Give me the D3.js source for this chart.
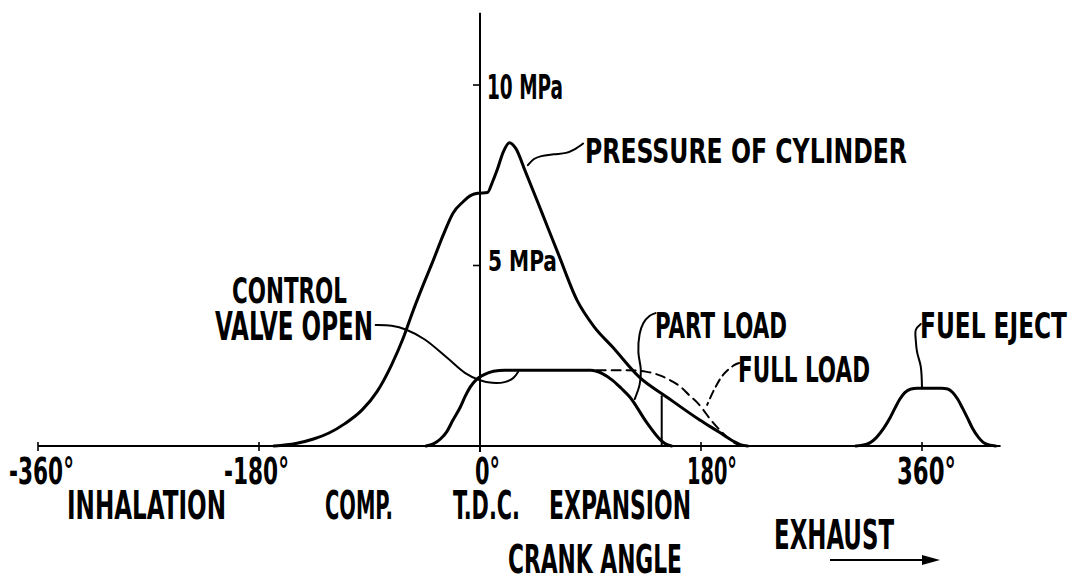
<!DOCTYPE html>
<meta charset="utf-8">
<style>
  body { margin: 0; background: #fff; }
  text { font-family: "Liberation Sans Narrow", "DejaVu Sans Condensed", sans-serif; font-weight: bold; fill: #000; }
</style>
<svg width="1073" height="576"></svg>
<script src="https://d3js.org/d3.v7.min.js"></script>
<script>
// crank angle (deg) / cylinder pressure (MPa)
var degTicks = [-360, -180, 0, 180, 360];
var degLabels = ['-360°', '-180°', '0°', '180°', '360°'];
var mpaTicks = [5, 10];
var mpaLabels = ['5 MPa', '10 MPa'];

var pressure = [[-168,0],[-150,0.07],[-135,0.2],[-123,0.36],[-110,0.62],[-96,1.0],[-84,1.5],[-72,2.25],[-63,2.95],
  [-55,3.7],[-47,4.4],[-38,5.15],[-30,5.84],[-22,6.45],[-14,6.76],[-7,6.95],[-2,7.0],[6,7.02],[10,7.3],
  [14,7.65],[19,8.15],[24,8.4],[29,8.25],[37,7.6],[50,6.5],[64,5.3],[79,4.04],[93,3.3],[108,2.74],[130,1.9],
  [152,1.36],[179,0.72],[195,0.38],[206,0.14],[212,0.04],[218,0]];
var partLoad = [[-44,0],[-38,0.06],[-32,0.2],[-27,0.4],[-22,0.72],[-16,1.08],[-12,1.38],[-8,1.63],[-3,1.84],
  [3,1.97],[11,2.07],[20,2.1],[90,2.1],[95,2.07],[100,2.0],[108,1.82],[115,1.6],[122,1.36],[136,0.64],
  [147,0.17],[151,0.06],[156,0]];
var fullLoad = [[95,2.1],[120,2.1],[135,2.06],[147,1.95],[156,1.8],[163,1.65],[170,1.42],[177,1.2],[190,0.64],
  [204,0.17],[208,0.07],[213,0]];
var cutOff = [[148,0],[148,1.38]];
var fuelEject = [[306,0],[315,0.05],[323,0.24],[329,0.5],[334,0.78],[338,1.05],[342,1.3],[346,1.48],[351,1.58],
  [356,1.6],[376,1.6],[381,1.58],[385,1.48],[389,1.3],[393,1.05],[397,0.78],[401,0.5],[406,0.24],[412,0.06],[420,0]];

// leader lines, in the same units
var pressureLeader = [[39,7.78],[44,7.95],[50,8.03],[60,8.08],[70,8.12],[77,8.22],[84,8.38]];
var valveLeader = [[-85,3.35],[-72,3.33],[-60,3.22],[-45,2.95],[-27,2.45],[-12,2.02],[0,1.82],[10,1.75],[20,1.77],[27,1.88],[31,2.05]];
var partLeader = [[143,3.68],[138,3.6],[133,3.4],[130,3.1],[129,2.6],[131,2.1],[130,1.7],[126,1.3]];
var fullLeader = [[211,2.3],[207,2.24],[198,1.97],[191,1.58],[185,1.14]];
var fuelLeader = [[359,3.38],[355,3.22],[355,2.9],[356,2.6],[359,2.2],[360,1.6]];

// text labels: [text, left, baseline, width, cap height]
var labels = [
  ['PRESSURE OF CYLINDER', 585, 163, 322, 24],
  ['CONTROL', 232, 303, 115, 26],
  ['VALVE OPEN', 215, 340, 158, 28],
  ['PART LOAD', 655, 338, 132, 25],
  ['FULL LOAD', 738, 382, 132, 26],
  ['FUEL EJECT', 920, 338, 147, 25],
  ['INHALATION', 67, 519, 159, 28],
  ['COMP.', 325, 519, 68, 28],
  ['T.D.C.', 453, 519, 67, 28],
  ['EXPANSION', 549, 519, 142, 28],
  ['CRANK ANGLE', 508, 573, 174, 28],
  ['EXHAUST', 774, 549, 120, 29]
];
var degLabelPos = [[9,65],[224,65],[475,25],[687,50],[897,59]];
var mpaLabelPos = [[488,271,69,21],[487,99,76,24]];

var svg = d3.select('svg');
var x = d3.scaleLinear().domain([-360, 360]).range([38, 922]);
var y = d3.scaleLinear().domain([0, 10]).range([446, 85]);

var line = d3.line().x(d => x(d[0])).y(d => y(d[1])).curve(d3.curveMonotoneX);
var smooth = d3.line().x(d => x(d[0])).y(d => y(d[1])).curve(d3.curveCatmullRom);

// axes
svg.append('line').attr('x1', x(-360)).attr('x2', x(424)).attr('y1', y(0)).attr('y2', y(0))
  .attr('stroke', '#000').attr('stroke-width', 2);
svg.append('line').attr('x1', x(0)).attr('x2', x(0)).attr('y1', y(0) + 6).attr('y2', y(12))
  .attr('stroke', '#000').attr('stroke-width', 2);
svg.selectAll('.xt').data(degTicks).enter().append('line')
  .attr('x1', d => x(d)).attr('x2', d => x(d)).attr('y1', y(0) - 4).attr('y2', y(0) + 5)
  .attr('stroke', '#000').attr('stroke-width', 1.6);
svg.selectAll('.yt').data(mpaTicks).enter().append('line')
  .attr('x1', x(0) - 7).attr('x2', x(0)).attr('y1', d => y(d)).attr('y2', d => y(d))
  .attr('stroke', '#000').attr('stroke-width', 1.6);

// curves
function path(data, gen, w, dash) {
  svg.append('path').attr('d', gen(data)).attr('fill', 'none').attr('stroke', '#000')
    .attr('stroke-width', w).attr('stroke-linejoin', 'round').attr('stroke-linecap', 'round')
    .attr('stroke-dasharray', dash || null);
}
path(pressure, line, 3);
path(partLoad, line, 3);
path(fullLoad, line, 2, '9 6');
path(cutOff, line, 2);
path(fuelEject, line, 3);
path(pressureLeader, smooth, 2);
path(valveLeader, smooth, 2);
path(partLeader, smooth, 2);
path(fullLeader, smooth, 2, '8 5');
path(fuelLeader, smooth, 2);

// text
function label(t, left, base, w, cap) {
  svg.append('text').attr('x', left).attr('y', base).attr('font-size', cap / 0.72)
    .attr('textLength', w).attr('lengthAdjust', 'spacingAndGlyphs').text(t);
}
labels.forEach(l => label(l[0], l[1], l[2], l[3], l[4]));
degLabels.forEach((t, i) => label(t, degLabelPos[i][0], 484, degLabelPos[i][1], 27));
mpaLabels.forEach((t, i) => label(t, mpaLabelPos[i][0], mpaLabelPos[i][1], mpaLabelPos[i][2], mpaLabelPos[i][3]));

// exhaust arrow
svg.append('line').attr('x1', 830).attr('x2', 926).attr('y1', 560).attr('y2', 560)
  .attr('stroke', '#000').attr('stroke-width', 2);
svg.append('path').attr('d', 'M940,560 L922,555 L922,565 Z').attr('fill', '#000');
</script>
